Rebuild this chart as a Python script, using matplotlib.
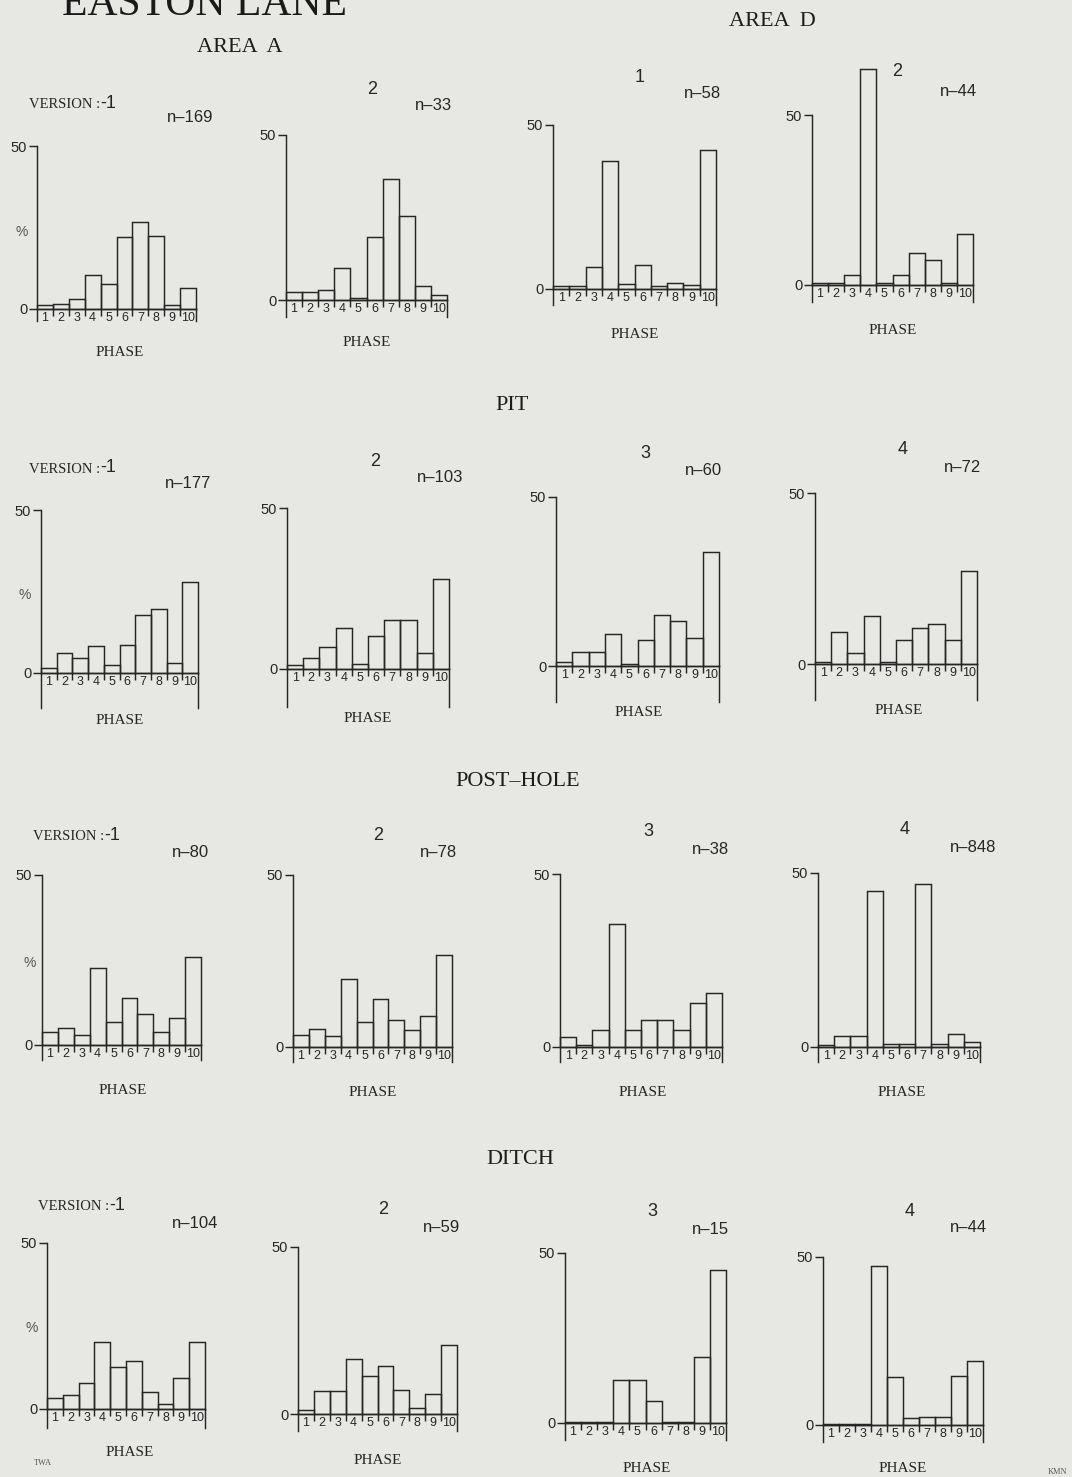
import numpy as np
import matplotlib
matplotlib.use("Agg")
import matplotlib.pyplot as plt

W, H = 1072, 1477
PAPER = "#e7e7e4"
INK = "#262626"
SERIF = "Liberation Serif"
SANS = "Liberation Sans"

PHASES = [str(p) for p in range(1, 11)]

# percentage of finds per phase, one list per version
AREA_A_V1 = [1.2, 1.5, 3.1, 10.4, 7.6, 22.2, 26.6, 22.4, 1.3, 6.5]
AREA_A_V2 = [2.5, 2.5, 3.0, 9.8, 0.5, 19.0, 36.7, 25.5, 4.2, 1.5]
AREA_D_V1 = [1.0, 1.0, 6.7, 39.0, 1.6, 7.3, 0.8, 1.8, 1.2, 42.4]
AREA_D_V2 = [0.5, 0.5, 2.9, 63.4, 0.7, 2.9, 9.3, 7.4, 0.7, 14.9]

PIT_V1 = [1.4, 6.1, 4.5, 8.2, 2.6, 8.6, 17.8, 19.7, 3.1, 27.9]
PIT_V2 = [1.2, 3.3, 6.7, 12.7, 1.6, 10.1, 15.3, 15.3, 5.0, 28.0]
PIT_V3 = [1.3, 4.2, 4.2, 9.5, 0.5, 7.7, 15.0, 13.4, 8.2, 33.7]
PIT_V4 = [0.5, 9.4, 3.1, 14.1, 0.5, 7.0, 10.5, 11.7, 7.0, 27.2]

POST_HOLE_V1 = [3.9, 5.1, 2.9, 22.6, 6.9, 13.9, 9.0, 3.9, 8.0, 26.0]
POST_HOLE_V2 = [3.4, 5.3, 3.3, 19.9, 7.2, 14.0, 7.8, 5.0, 8.9, 26.7]
POST_HOLE_V3 = [2.9, 0.7, 5.0, 35.6, 5.0, 7.9, 7.9, 5.0, 12.7, 15.6]
POST_HOLE_V4 = [0.7, 3.1, 3.1, 44.7, 1.0, 1.0, 46.9, 1.0, 3.8, 1.3]

DITCH_V1 = [3.3, 4.1, 7.8, 20.2, 12.6, 14.6, 5.0, 1.5, 9.2, 20.2]
DITCH_V2 = [1.2, 6.9, 6.9, 16.6, 11.5, 14.4, 7.2, 1.9, 5.9, 20.7]
DITCH_V3 = [0.4, 0.4, 0.4, 12.7, 12.7, 6.4, 0.4, 0.4, 19.4, 45.1]
DITCH_V4 = [0.4, 0.4, 0.4, 47.2, 14.2, 2.0, 2.3, 2.5, 14.7, 19.0]

N_AREA = [169, 33, 58, 44]
N_PIT = [177, 103, 60, 72]
N_POST_HOLE = [80, 78, 38, 848]
N_DITCH = [104, 59, 15, 44]

VERSIONS_AREA = ["1", "2", "1", "2"]
VERSIONS = ["1", "2", "3", "4"]

ROWS = [
    ([AREA_A_V1, AREA_A_V2, AREA_D_V1, AREA_D_V2], N_AREA, VERSIONS_AREA),
    ([PIT_V1, PIT_V2, PIT_V3, PIT_V4], N_PIT, VERSIONS),
    ([POST_HOLE_V1, POST_HOLE_V2, POST_HOLE_V3, POST_HOLE_V4], N_POST_HOLE, VERSIONS),
    ([DITCH_V1, DITCH_V2, DITCH_V3, DITCH_V4], N_DITCH, VERSIONS),
]

# page layout in pixels: y-axis x, right edge x, y of 50, y of 0, drop below 0
BOXES = [
    [(37, 196, 146, 309, 12), (286, 447, 135, 300, 17), (553, 716, 125, 289, 16), (812, 973, 115, 285, 17)],
    [(41, 198, 510, 673, 35), (287, 449, 508, 669, 38), (556, 719, 497, 666, 36), (815, 977, 493, 664, 36)],
    [(42, 201, 875, 1045, 15), (293, 452, 875, 1047, 15), (560, 722, 874, 1047, 15), (818, 980, 873, 1047, 15)],
    [(47, 205, 1243, 1409, 19), (298, 457, 1247, 1414, 17), (565, 726, 1253, 1423, 17), (823, 983, 1257, 1425, 17)],
]
# version label, n label and PHASE label centres
LABELS = [
    [((81, 105), (190, 117), (120, 352)), ((372, 90), (433, 105), (367, 343)),
     ((640, 77), (702, 93), (635, 335)), ((897, 72), (958, 92), (893, 330))],
    [((81, 469), (188, 484), (120, 720)), ((375, 461), (440, 477), (368, 718)),
     ((645, 453), (703, 470), (639, 713)), ((903, 450), (963, 468), (899, 710))],
    [((85, 837), (190, 853), (123, 1090)), ((378, 835), (438, 853), (373, 1092)),
     ((648, 832), (710, 850), (643, 1093)), ((905, 830), (973, 847), (902, 1092))],
    [((90, 1206), (195, 1224), (130, 1453)), ((383, 1210), (442, 1227), (378, 1460)),
     ((652, 1212), (710, 1230), (647, 1468)), ((910, 1212), (968, 1227), (903, 1468))],
]
PERCENT_POS = [(22, 232), (25, 595), (30, 963), (32, 1328)]
HEADINGS = [("AREA  A", 240, 48), ("AREA  D", 772, 22), ("PIT", 512, 406),
            ("POST\u2013HOLE", 518, 781), ("DITCH", 520, 1159)]

plt.rcParams["font.family"] = [SANS, "DejaVu Sans"]

fig = plt.figure(figsize=(W / 100, H / 100), dpi=100, facecolor=PAPER)


def put(x, y, s, **kw):
    kw.setdefault("ha", "center")
    kw.setdefault("va", "center")
    kw.setdefault("color", INK)
    fig.text(x / W, 1 - y / H, s, **kw)


def draw_panel(values, box):
    x0, x1, y50, ybase, drop = box
    scale = (ybase - y50) / 50.0
    top_px = y50 - 90
    bot_px = ybase + drop + 2
    ax = fig.add_axes([x0 / W, 1 - bot_px / H, (x1 - x0) / W, (bot_px - top_px) / H])
    ax.patch.set_visible(False)
    ax.set_xlim(0, 10)
    ax.set_ylim(-(bot_px - ybase) / scale, (ybase - top_px) / scale)

    centers = np.arange(len(values)) + 0.5
    ax.bar(centers, values, width=1.0, fill=False, edgecolor=INK,
           linewidth=1.05, clip_on=False)

    low = -drop / scale
    for side in ("left", "right", "bottom"):
        ax.spines[side].set_color(INK)
        ax.spines[side].set_linewidth(1.05)
    ax.spines["left"].set_bounds(low, 50)
    ax.spines["right"].set_bounds(low, 0)
    ax.spines["bottom"].set_position(("data", 0))
    ax.spines["bottom"].set_bounds(0, 10)
    ax.spines["top"].set_visible(False)

    ax.set_yticks([0, 50])
    ax.set_yticklabels(["0", "50"])
    ax.tick_params(axis="y", direction="out", length=6, width=1.05, color=INK,
                   labelcolor=INK, labelsize=10.5, pad=1)
    ax.set_xticks(centers)
    ax.set_xticklabels(PHASES)
    ax.set_xticks(np.arange(1, 10), minor=True)
    ax.tick_params(axis="x", which="major", length=0, pad=2, labelsize=9,
                   labelcolor=INK)
    ax.tick_params(axis="x", which="minor", direction="out", length=5,
                   width=1.05, color=INK)
    return ax


for r, (series, ns, versions) in enumerate(ROWS):
    for c in range(4):
        draw_panel(series[c], BOXES[r][c])
        (vx, vy), (nx, ny), (px, py) = LABELS[r][c]
        if c == 0:
            put(vx + 19, vy, "VERSION :", ha="right", family=SERIF, fontsize=10.5)
            put(vx + 19, vy - 1, "-1", ha="left", fontsize=13)
        else:
            put(vx, vy, versions[c], fontsize=13)
        put(nx, ny, f"n\u2013{ns[c]}", fontsize=12)
        put(px, py, "PHASE", family=SERIF, fontsize=11)
    put(*PERCENT_POS[r][:2], "%", fontsize=10, color="#555555")

for text, x, y in HEADINGS:
    put(x, y, text, family=SERIF, fontsize=16, color="#1c1c1c")

put(62, 15, "EASTON LANE", ha="left", va="baseline", family=SERIF,
    fontsize=30, color="#1a1a1a")
put(43, 1463, "TWA", family=SERIF, fontsize=6, color="#555555")
put(1048, 1472, "KMN", ha="left", family=SERIF, fontsize=6, color="#555555")

fig.savefig("out.png", dpi=100, facecolor=PAPER)
